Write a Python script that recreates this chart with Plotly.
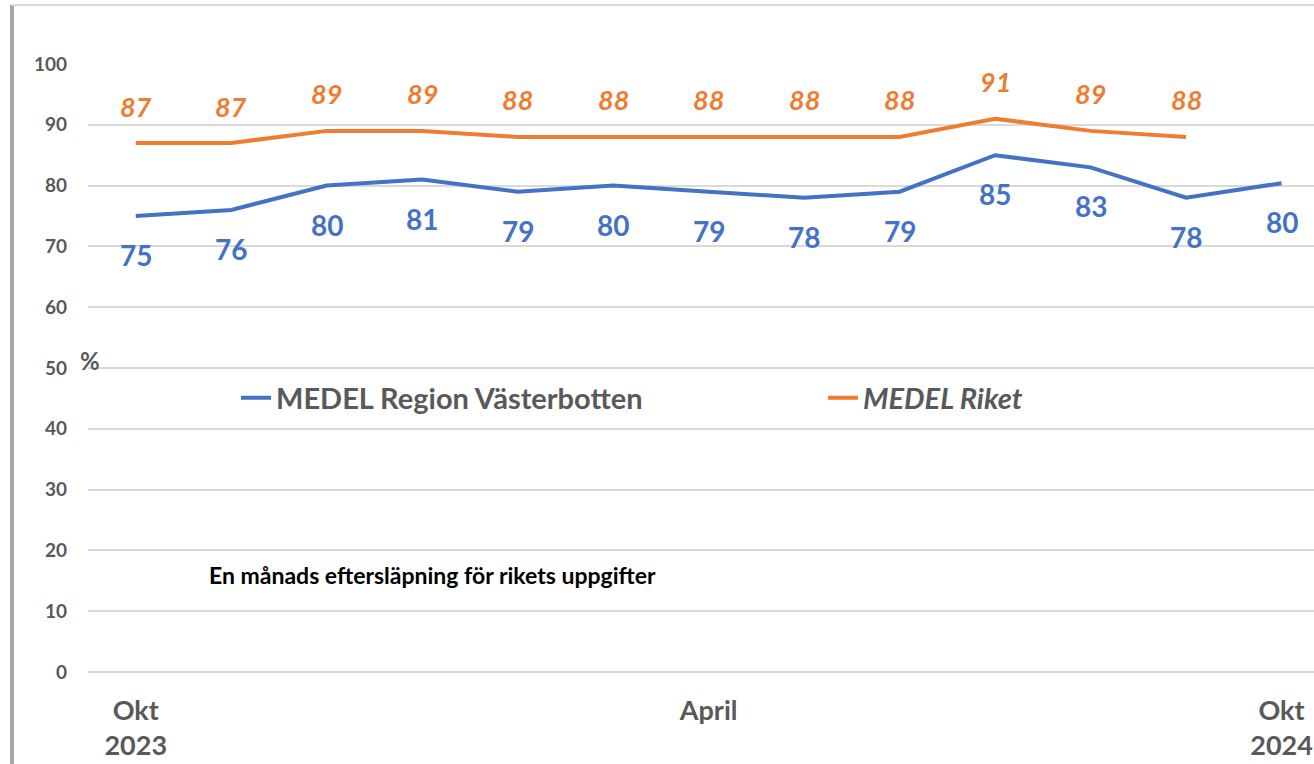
import plotly.graph_objects as go

# Months Okt 2023 .. Okt 2024 (index positions on a category axis)
months = ["Okt 2023", "Nov", "Dec", "Jan", "Feb", "Mar", "April",
          "Maj", "Jun", "Jul", "Aug", "Sep", "Okt 2024"]
vasterbotten = [75, 76, 80, 81, 79, 80, 79, 78, 79, 85, 83, 78, 80.4]
riket = [87, 87, 89, 89, 88, 88, 88, 88, 88, 91, 89, 88]  # one month lag

tick_idx = [0, 6, 12]
tick_text = ["Okt<br>2023", "April", "Okt<br>2024"]

BLUE = "#4472C4"
ORANGE = "#ED7D31"
GREY = "#595959"
FONT = "Lato"

W, H = 1314, 764
L, T, B = 88, 64, 92

x = list(range(len(months)))

fig = go.Figure()
fig.add_trace(go.Scatter(
    x=x, y=vasterbotten, mode="lines",
    line=dict(color=BLUE, width=4),
    name="<b>MEDEL Region Västerbotten</b>",
))
fig.add_trace(go.Scatter(
    x=x[:len(riket)], y=riket, mode="lines",
    line=dict(color=ORANGE, width=4),
    name="<b><i>MEDEL Riket</i></b>",
))

# data labels
for i, v in enumerate(vasterbotten):
    fig.add_annotation(x=i, y=v, text=f"<b>{round(v)}</b>", showarrow=False,
                       yshift=-39, font=dict(size=28, color=BLUE, family=FONT))
for i, v in enumerate(riket):
    fig.add_annotation(x=i, y=v, text=f"<b><i>{v}</i></b>", showarrow=False,
                       yshift=37, font=dict(size=27, color=ORANGE, family=FONT))


def px_x(p):
    return (p - L) / (W - L)


def px_y(p):
    return (H - B - p) / (H - B - T)


fig.add_annotation(xref="paper", yref="paper", x=px_x(90), y=px_y(360),
                   text="<b>%</b>", showarrow=False, xanchor="center",
                   yanchor="middle",
                   font=dict(size=24, color=GREY, family=FONT))
fig.add_annotation(xref="paper", yref="paper", x=px_x(207), y=px_y(575),
                   text="<b>En månads eftersläpning för rikets uppgifter</b>",
                   showarrow=False, xanchor="left", yanchor="middle",
                   font=dict(size=23, color="black", family=FONT))

# chart frame with shadow
fig.add_shape(type="line", xref="paper", yref="paper",
              x0=px_x(12), x1=px_x(12), y0=px_y(5), y1=px_y(H + 5),
              line=dict(color="#a6a6a6", width=4))
fig.add_shape(type="line", xref="paper", yref="paper",
              x0=px_x(12), x1=px_x(W + 5), y0=px_y(5), y1=px_y(5),
              line=dict(color="#d9d9d9", width=2))

fig.update_layout(
    width=W, height=H,
    margin=dict(l=L, r=0, t=T, b=B, autoexpand=False),
    plot_bgcolor="white", paper_bgcolor="white",
    font=dict(family=FONT, color=GREY),
    showlegend=True,
    legend=dict(
        orientation="h", x=px_x(236), y=px_y(398), xanchor="left",
        yanchor="middle", font=dict(size=29, color=GREY, family=FONT),
        entrywidth=542, entrywidthmode="pixels", bgcolor="rgba(0,0,0,0)",
    ),
    xaxis=dict(
        range=[-0.5, 12.34], tickmode="array", tickvals=tick_idx,
        ticktext=[f"<b>{t}</b>" for t in tick_text],
        tickfont=dict(size=27, color=GREY, family=FONT),
        showgrid=False, zeroline=False, showline=False, ticks="",
        ticklabelstandoff=20, ticklabeloverflow="allow", automargin=False,
    ),
    yaxis=dict(
        range=[0, 100], tickmode="array", tickvals=list(range(0, 101, 10)),
        ticktext=[f"<b>{v}</b>" for v in range(0, 101, 10)],
        tickfont=dict(size=19, color=GREY, family=FONT),
        showgrid=True, gridcolor="#d9d9d9", gridwidth=1.5,
        zeroline=True, zerolinecolor="#d9d9d9", zerolinewidth=1.5,
        ticklabelstandoff=20, automargin=False,
    ),
)

# the page body has a default 8px margin; drop it so the figure fills the window
fig.write_html("out.html", config={"displayModeBar": False},
               post_script="document.body.style.margin='0px';")
